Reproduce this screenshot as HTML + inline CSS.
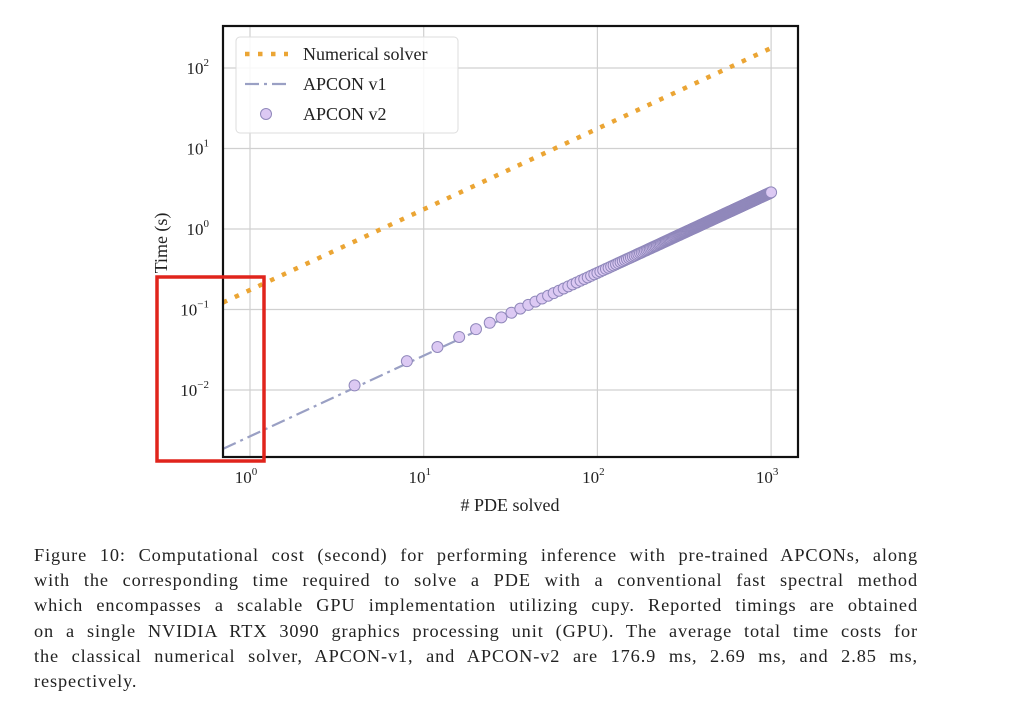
<!DOCTYPE html>
<html><head><meta charset="utf-8"><style>
body{margin:0;background:#fff;width:1024px;height:716px;overflow:hidden;font-family:"Liberation Serif",serif;}
.cap{position:absolute;left:34px;top:543px;width:884px;font-size:18.3px;line-height:25.2px;color:#222;letter-spacing:0.9px;}
.cap div{text-align:justify;text-align-last:justify;white-space:nowrap;}
.cap div.last{text-align-last:left;}
</style></head><body>
<svg width="1024" height="716" style="position:absolute;left:0;top:0">
<g id="grid"></g><g id="series"></g><g id="axes"></g>
<rect x="157" y="277" width="107" height="184" fill="none" stroke="#e0241c" stroke-width="3.5"/>
</svg>
<div class="cap">
<div>Figure 10: Computational cost (second) for performing inference with pre-trained APCONs, along</div>
<div>with the corresponding time required to solve a PDE with a conventional fast spectral method</div>
<div>which encompasses a scalable GPU implementation utilizing cupy. Reported timings are obtained</div>
<div>on a single NVIDIA RTX 3090 graphics processing unit (GPU). The average total time costs for</div>
<div>the classical numerical solver, APCON-v1, and APCON-v2 are 176.9 ms, 2.69 ms, and 2.85 ms,</div>
<div class="last">respectively.</div>
</div>
<script>
const xTicks=[0,1,2,3];
const yTicks=[-2,-1,0,1,2];
const solverRate=0.1769;
const v1Rate=0.00269;
const v2Rate=0.00285;
const v2Counts=[];for(let n=4;n<=1000;n+=4)v2Counts.push(n);
const L=223,R=798,T=26,B=457;
const X=v=>250+(Math.log10(v))*173.7;
const Y=v=>68-(Math.log10(v)-2)*80.5;
const NS="http://www.w3.org/2000/svg";
function mk(t,a,p){const e=document.createElementNS(NS,t);for(const k in a)e.setAttribute(k,a[k]);p.appendChild(e);return e;}
const grid=document.getElementById('grid'),ser=document.getElementById('series'),ax=document.getElementById('axes');
xTicks.forEach(d=>{const x=X(Math.pow(10,d));
const g=mk('line',{x1:x,x2:x,y1:T,y2:B,stroke:'#d0d0d0','stroke-width':1.2},grid);


const t=mk('text',{x:x-4,y:B+26,'font-size':17,'text-anchor':'middle',fill:'#222'},ax);


t.innerHTML='10<tspan dy="-8" font-size="11">'+String(d).replace('-','\u2212')+'</tspan>';});
yTicks.forEach(d=>{const y=Y(Math.pow(10,d));
const g=mk('line',{x1:L,x2:R,y1:y,y2:y,stroke:'#d0d0d0','stroke-width':1.2},grid);


const t=mk('text',{x:209,y:y+6,'font-size':17,'text-anchor':'end',fill:'#222'},ax);


t.innerHTML='10<tspan dy="-8" font-size="11">'+String(d).replace('-','\u2212')+'</tspan>';});
const x0=0.69,x1=1000;
const s=mk('line',{x1:L,y1:Y(solverRate*x0),x2:X(x1),y2:Y(solverRate*x1),stroke:'#eba534','stroke-width':4.5,'stroke-dasharray':'4.5 8.5'},ser);


const v=mk('line',{x1:L,y1:Y(v1Rate*x0),x2:X(x1),y2:Y(v1Rate*x1),stroke:'#9aa0c4','stroke-width':2.2,'stroke-dasharray':'14 5 3 5'},ser);


v2Counts.forEach(n=>{const c=mk('circle',{cx:X(n),cy:Y(v2Rate*n),r:5.5,fill:'#dcc9f3',stroke:'#9088bb','stroke-width':1},ser);

});
const fr=mk('rect',{x:L,y:T,width:R-L,height:B-T,fill:'none',stroke:'#111','stroke-width':2.2},ax);


const xt=mk('text',{x:510,y:511,'font-size':18,'text-anchor':'middle',fill:'#222'},ax);xt.textContent='# PDE solved';


const yt=mk('text',{x:0,y:0,'font-size':18,'text-anchor':'middle',fill:'#222',transform:'translate(167,243) rotate(-90)'},ax);yt.textContent='Time (s)';


const lg=mk('g',{},ax);


mk('rect',{x:236,y:37,width:222,height:96,rx:4,fill:'#fff','fill-opacity':0.85,stroke:'#ddd'},lg);
mk('line',{x1:245,y1:54,x2:288,y2:54,stroke:'#eba534','stroke-width':4.5,'stroke-dasharray':'4.5 8.5'},lg);
mk('line',{x1:245,y1:84,x2:288,y2:84,stroke:'#9aa0c4','stroke-width':2.2,'stroke-dasharray':'14 5 3 5'},lg);
mk('circle',{cx:266,cy:114,r:5.5,fill:'#dcc9f3',stroke:'#9088bb'},lg);
[['Numerical solver',60],['APCON v1',90],['APCON v2',120]].forEach(([t,y])=>{const e=mk('text',{x:303,y:y,'font-size':18,fill:'#222'},lg);e.textContent=t;

});
</script>
</body></html>
